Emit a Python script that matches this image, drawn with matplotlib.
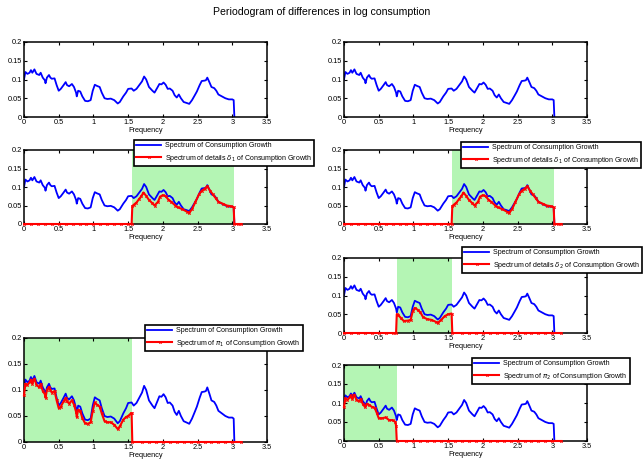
import numpy as np
import matplotlib.pyplot as plt

plt.rcParams['font.family'] = ['Liberation Sans', 'DejaVu Sans']

# spectrum of consumption growth
freq = [0.00, 0.02, 0.05, 0.08, 0.10, 0.12, 0.15, 0.18, 0.22, 0.24, 0.27, 0.30, 0.31,
        0.33, 0.36, 0.38, 0.40, 0.44, 0.47, 0.50, 0.53, 0.57, 0.60, 0.62, 0.65, 0.69,
        0.72, 0.75, 0.76, 0.78, 0.81, 0.84, 0.88, 0.92, 0.96, 0.99, 1.02, 1.05, 1.09,
        1.12, 1.16, 1.20, 1.25, 1.30, 1.35, 1.38, 1.43, 1.47, 1.50, 1.55, 1.58, 1.62,
        1.66, 1.70, 1.73, 1.76, 1.80, 1.85, 1.88, 1.92, 1.95, 1.98, 2.01, 2.04, 2.07,
        2.10, 2.14, 2.17, 2.20, 2.23, 2.26, 2.30, 2.35, 2.38, 2.42, 2.46, 2.49, 2.53,
        2.56, 2.60, 2.62, 2.64, 2.67, 2.70, 2.74, 2.77, 2.80, 2.85, 2.90, 2.95, 3.00,
        3.02, 3.03]
spec = [0.100, 0.120, 0.115, 0.118, 0.125, 0.118, 0.127, 0.115, 0.112, 0.118, 0.105,
        0.098, 0.090, 0.105, 0.112, 0.105, 0.102, 0.103, 0.085, 0.070, 0.075, 0.085,
        0.093, 0.085, 0.082, 0.088, 0.080, 0.065, 0.055, 0.070, 0.068, 0.055, 0.043,
        0.042, 0.045, 0.070, 0.086, 0.083, 0.080, 0.065, 0.050, 0.048, 0.049, 0.045,
        0.036, 0.040, 0.055, 0.065, 0.075, 0.076, 0.070, 0.075, 0.085, 0.095, 0.108,
        0.100, 0.080, 0.070, 0.065, 0.078, 0.088, 0.087, 0.092, 0.086, 0.075, 0.076,
        0.070, 0.058, 0.052, 0.060, 0.050, 0.040, 0.037, 0.035, 0.045, 0.058, 0.068,
        0.085, 0.096, 0.097, 0.098, 0.105, 0.093, 0.080, 0.077, 0.070, 0.060, 0.055,
        0.050, 0.047, 0.047, 0.045, 0.0]

# spectrum of details delta_1
d1_f = [0.0, 0.1, 0.2, 0.3, 0.4, 0.5, 0.6, 0.7, 0.8, 0.9, 1.0, 1.1, 1.2, 1.3, 1.4, 1.5,
        1.55, 1.56, 1.58, 1.62, 1.66, 1.69, 1.72, 1.76, 1.80, 1.85, 1.88, 1.93, 1.96,
        2.00, 2.04, 2.08, 2.12, 2.18, 2.22, 2.28, 2.35, 2.38, 2.42, 2.47, 2.52, 2.56,
        2.60, 2.64, 2.68, 2.72, 2.76, 2.80, 2.86, 2.92, 2.98, 3.02, 3.03, 3.08, 3.13]
d1_v = [0, 0, 0, 0, 0, 0, 0, 0, 0, 0, 0, 0, 0, 0, 0, 0,
        0, 0.048, 0.052, 0.058, 0.068, 0.075, 0.085, 0.076, 0.065, 0.056, 0.050, 0.060,
        0.074, 0.078, 0.075, 0.066, 0.060, 0.050, 0.045, 0.040, 0.033, 0.030, 0.040,
        0.060, 0.080, 0.090, 0.095, 0.102, 0.090, 0.080, 0.070, 0.060, 0.055, 0.050,
        0.048, 0.045, 0, 0, 0]

# spectrum of details delta_2
d2_f = [0.0, 0.1, 0.2, 0.3, 0.4, 0.5, 0.6, 0.7, 0.75, 0.76, 0.78, 0.82, 0.86, 0.92,
        0.96, 0.99, 1.02, 1.06, 1.10, 1.14, 1.20, 1.26, 1.32, 1.35, 1.40, 1.45, 1.50,
        1.55, 1.56, 1.7, 1.8, 1.9, 2.0, 2.1, 2.2, 2.3, 2.4, 2.5, 2.6, 2.7, 2.8, 2.9,
        3.0, 3.13]
d2_v = [0, 0, 0, 0, 0, 0, 0, 0, 0, 0.050, 0.048, 0.040, 0.032, 0.033, 0.035, 0.058,
        0.067, 0.062, 0.055, 0.042, 0.037, 0.035, 0.030, 0.027, 0.035, 0.045, 0.050,
        0.052, 0, 0, 0, 0, 0, 0, 0, 0, 0, 0, 0, 0, 0, 0, 0, 0]

# spectrum of pi_1
a1_f = [0.00, 0.02, 0.05, 0.08, 0.10, 0.12, 0.15, 0.18, 0.22, 0.24, 0.27, 0.30, 0.31,
        0.33, 0.36, 0.38, 0.40, 0.44, 0.47, 0.50, 0.53, 0.57, 0.60, 0.62, 0.65, 0.69,
        0.72, 0.75, 0.76, 0.78, 0.81, 0.84, 0.88, 0.92, 0.96, 0.99, 1.02, 1.05, 1.09,
        1.12, 1.16, 1.20, 1.25, 1.30, 1.35, 1.38, 1.43, 1.47, 1.50, 1.54, 1.55, 1.56,
        1.7, 1.8, 1.9, 2.0, 2.1, 2.2, 2.3, 2.4, 2.5, 2.6, 2.7, 2.8, 2.9, 3.0, 3.13]
a1_v = [0.090, 0.112, 0.110, 0.115, 0.120, 0.112, 0.122, 0.110, 0.105, 0.112, 0.098,
        0.092, 0.085, 0.100, 0.106, 0.100, 0.095, 0.098, 0.080, 0.065, 0.068, 0.078,
        0.085, 0.078, 0.074, 0.080, 0.072, 0.058, 0.048, 0.062, 0.060, 0.046, 0.036,
        0.035, 0.038, 0.060, 0.076, 0.072, 0.068, 0.055, 0.040, 0.038, 0.038, 0.033,
        0.025, 0.030, 0.043, 0.048, 0.050, 0.055, 0.055, 0,
        0, 0, 0, 0, 0, 0, 0, 0, 0, 0, 0, 0, 0, 0, 0]

# spectrum of pi_2
a2_f = [0.00, 0.02, 0.05, 0.08, 0.10, 0.12, 0.15, 0.18, 0.22, 0.24, 0.27, 0.30, 0.33,
        0.36, 0.40, 0.44, 0.47, 0.50, 0.55, 0.60, 0.65, 0.70, 0.74, 0.75, 0.76,
        0.9, 1.0, 1.1, 1.2, 1.3, 1.4, 1.5, 1.6, 1.7, 1.8, 1.9, 2.0, 2.1, 2.2, 2.3,
        2.4, 2.5, 2.6, 2.7, 2.8, 2.9, 3.0, 3.13]
a2_v = [0.090, 0.112, 0.108, 0.115, 0.120, 0.110, 0.122, 0.108, 0.105, 0.110, 0.098,
        0.090, 0.098, 0.095, 0.090, 0.088, 0.075, 0.060, 0.060, 0.062, 0.055, 0.055,
        0.050, 0.040, 0,
        0, 0, 0, 0, 0, 0, 0, 0, 0, 0, 0, 0, 0, 0, 0, 0, 0, 0, 0, 0, 0, 0, 0]

xticks = [0, 0.5, 1, 1.5, 2, 2.5, 3, 3.5]
yticks = [0, 0.05, 0.1, 0.15, 0.2]

W, H = 643, 462
fig = plt.figure(figsize=(W/100, H/100), dpi=100)
fs = 5.3
green = '#b4f5b4'


def make_ax(left, top, bottom, width=243):
    ax = fig.add_axes([left/W, 1-bottom/H, width/W, (bottom-top)/H])
    ax.set_xlim(0, 3.5)
    ax.set_ylim(0, 0.2)
    ax.set_xticks(xticks)
    ax.set_xticklabels(['0', '0.5', '1', '1.5', '2', '2.5', '3', '3.5'])
    ax.set_yticks(yticks)
    ax.set_yticklabels(['0', '0.05', '0.1', '0.15', '0.2'])
    ax.tick_params(direction='in', top=True, right=True, length=2.5, width=0.8,
                   labelsize=fs, pad=1.5)
    for s in ax.spines.values():
        s.set_linewidth(1.1)
    ax.set_xlabel('Frequency', fontsize=fs, labelpad=1)
    return ax


def panel(ax, band, rf, rv, lab, lx, ly):
    ax.axvspan(band[0], band[1], color=green, lw=0, zorder=0)
    l1, = ax.plot(freq, spec, color='#0000ff', lw=1.3, zorder=2)
    l2, = ax.plot(rf, rv, color='#ff0000', lw=1.5, marker='x', ms=1.7, mew=0.7,
                  zorder=3, clip_on=False)
    leg = ax.legend([l1, l2], ['Spectrum of Consumption Growth', lab],
                    loc='upper left', bbox_to_anchor=(lx/W, 1-ly/H),
                    bbox_transform=fig.transFigure, fontsize=5.0, borderaxespad=0,
                    fancybox=False, framealpha=1, edgecolor='black',
                    handlelength=3.6, handletextpad=0.5, borderpad=0.35,
                    labelspacing=0.5)
    leg.get_frame().set_linewidth(1.2)
    leg.set_zorder(10)


# left column
ax = make_ax(24, 42, 117)
ax.plot(freq, spec, color='#0000ff', lw=1.3)

ax = make_ax(24, 150, 224)
panel(ax, (1.55, 3.02), d1_f, d1_v, r'Spectrum of details $\delta_1$ of Consumption Growth', 134, 140)

ax = make_ax(24, 338, 442)
panel(ax, (0, 1.55), a1_f, a1_v, r'Spectrum of $\pi_1$ of Consumption Growth', 145, 325)

# right column
ax = make_ax(344, 42, 117)
ax.plot(freq, spec, color='#0000ff', lw=1.3)

ax = make_ax(344, 150, 224)
panel(ax, (1.55, 3.02), d1_f, d1_v, r'Spectrum of details $\delta_1$ of Consumption Growth', 461, 142)

ax = make_ax(344, 258, 333)
panel(ax, (0.76, 1.555), d2_f, d2_v, r'Spectrum of details $\delta_2$ of Consumption Growth', 462, 247)

ax = make_ax(344, 365, 441)
panel(ax, (0, 0.76), a2_f, a2_v, r'Spectrum of $\pi_2$ of Consumption Growth', 472, 358)

fig.text(0.5, 1-12/H, 'Periodogram of differences in log consumption',
         ha='center', va='center', fontsize=7.6)

fig.savefig('out.png', dpi=100)
